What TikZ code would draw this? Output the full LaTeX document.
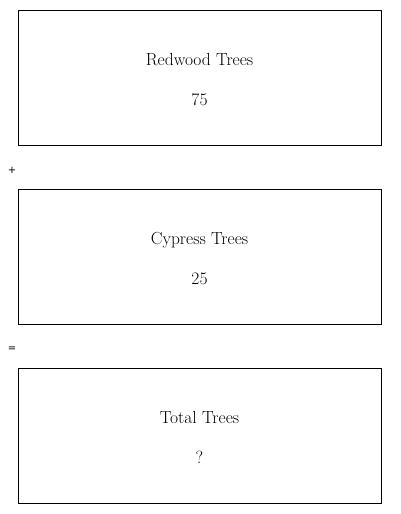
\documentclass[tikz,border=0pt]{standalone}
\usepackage{fontspec}
\newfontfamily\opfont{DejaVu Sans}
\usetikzlibrary{positioning}
\tikzset{
  node distance=43pt,
  sumbox/.style={rectangle, draw=black, line width=1pt, minimum width=363pt,
                 minimum height=135pt, align=center, font=\fontsize{17.5}{20}\selectfont},
  oplbl/.style={font=\fontsize{10}{12}\selectfont\opfont, inner sep=0pt},
}
\newcommand{\tstrut}{\rule{0pt}{16pt}}
\begin{document}
\begin{tikzpicture}[x=1pt, y=1pt]
  \useasboundingbox (0,0) rectangle (400,-514);
  % the three boxes
  \node[sumbox] (redwood) at (199.5,-77.5) {\tstrut Redwood Trees\\[20pt]75};
  \node[sumbox, below=of redwood] (cypress) {\tstrut Cypress Trees\\[20pt]25};
  \node[sumbox, below=of cypress] (total) {\tstrut Total Trees\\[20pt]?};
  % operators
  \node[oplbl] (plus) at (12,-170) {+};
  \node[oplbl] (equals) at (12,-349) {=};
\end{tikzpicture}
\end{document}
